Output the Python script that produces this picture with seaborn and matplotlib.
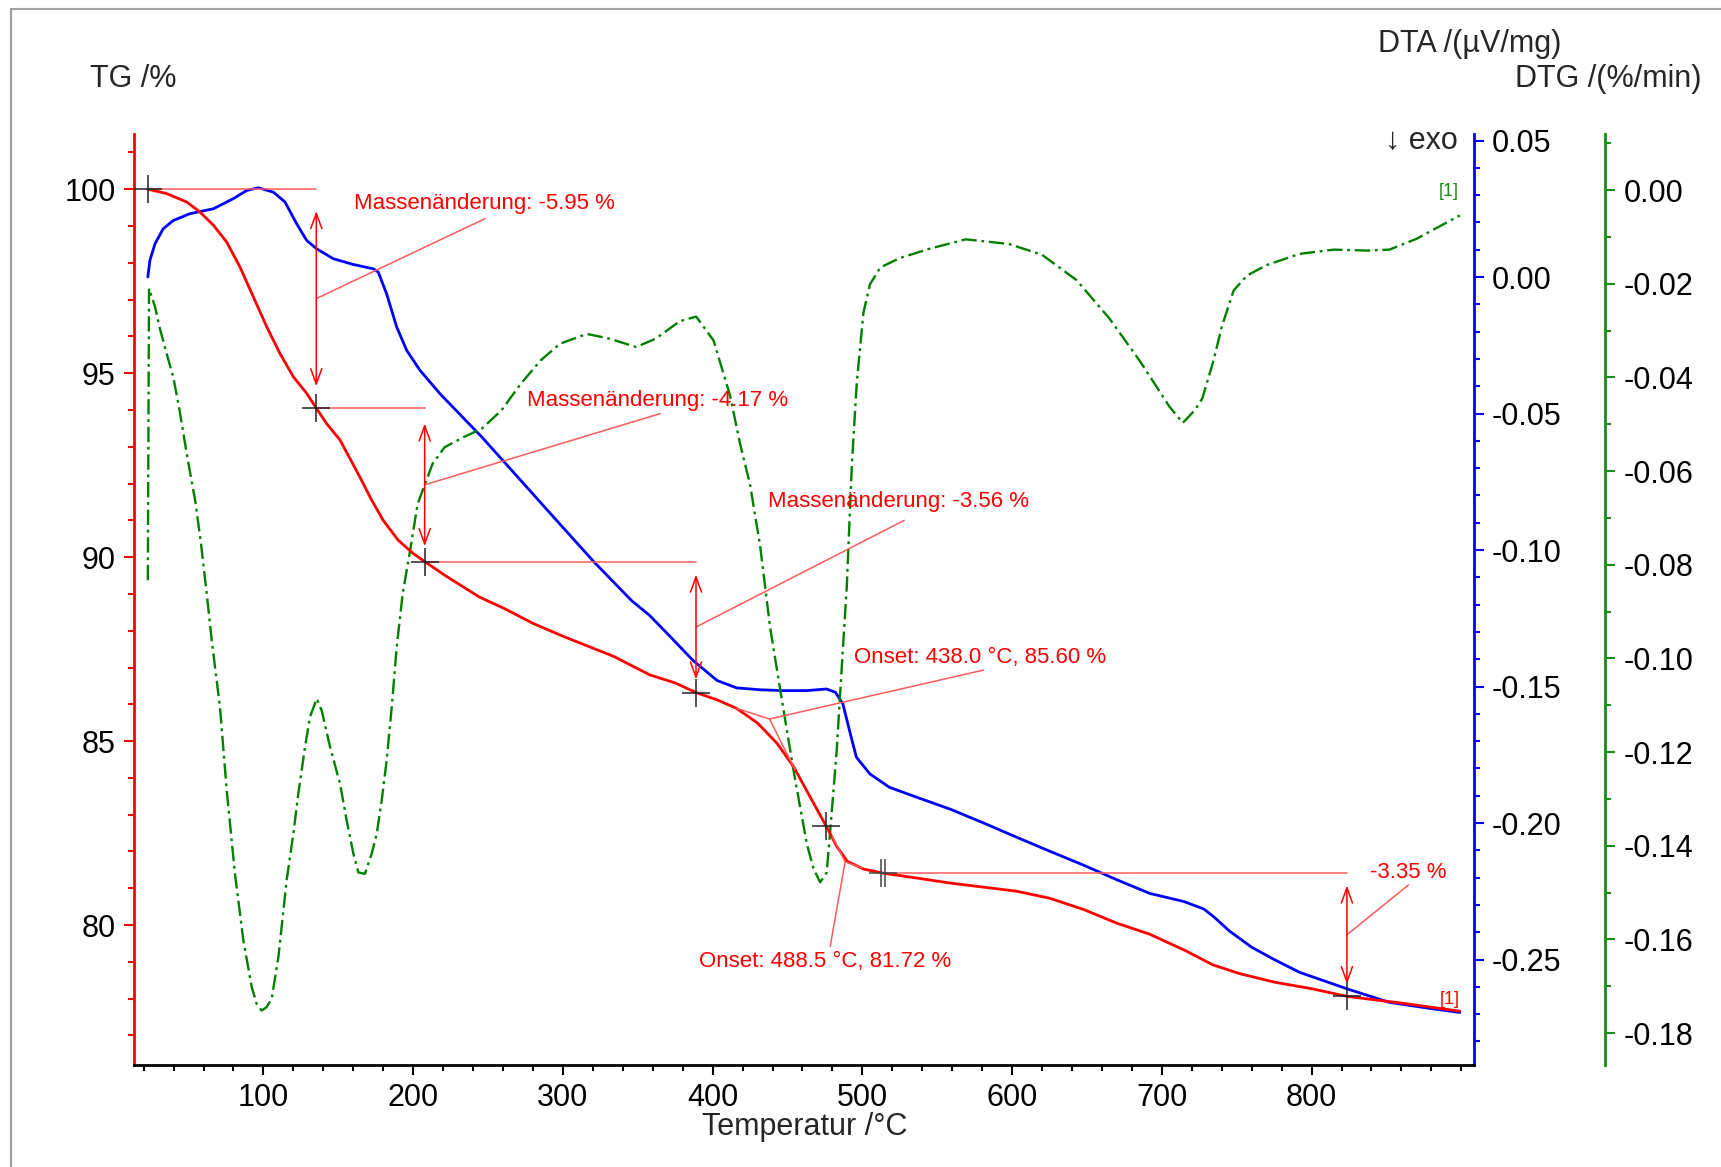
import matplotlib
matplotlib.use("Agg")
import matplotlib.pyplot as plt
import seaborn as sns
from matplotlib.ticker import MultipleLocator, FixedLocator, FormatStrFormatter
from matplotlib.path import Path
from matplotlib.patches import Rectangle

# TG curve (mass / %)
temp_tg = [22.8, 35.4, 48.8, 57.6, 66.6, 75.5, 84.4, 93.3, 102.2, 111.1,
           120, 128.9, 135.3, 142.2, 151.2, 157.8, 165, 172, 180, 190,
           200, 207.7, 221, 244, 261, 280, 300, 334, 358, 375,
           388.9, 403, 416, 430, 443, 454, 465, 476, 483, 490,
           501, 514, 536, 559, 581, 603, 625, 648, 670, 692,
           716, 734, 752, 775, 800, 824, 860, 899]
tg = [100.0, 99.88, 99.65, 99.38, 99.02, 98.56, 97.88, 97.07, 96.26, 95.53,
      94.9, 94.45, 94.05, 93.63, 93.18, 92.68, 92.13, 91.57, 91.0, 90.46,
      90.1, 89.88, 89.51, 88.92, 88.6, 88.2, 87.85, 87.3, 86.8, 86.58,
      86.32, 86.12, 85.89, 85.49, 84.94, 84.31, 83.49, 82.68, 82.13, 81.73,
      81.52, 81.41, 81.28, 81.14, 81.03, 80.92, 80.73, 80.42, 80.05, 79.75,
      79.3, 78.92, 78.68, 78.45, 78.27, 78.06, 77.88, 77.66]

# DTA curve (uV/mg)
temp_dta = [22.8, 24.2, 27.6, 33.1, 39.8, 50.9, 66.6, 79.9, 88.8, 96.6,
            106.6, 114.4, 122.2, 128.9, 135.6, 146.7, 160, 173.4, 176.7, 182.3,
            189, 195.7, 204.6, 218, 246, 272, 298, 321, 346, 358,
            372, 387, 403, 416, 432, 447, 463, 476, 482, 487,
            492, 496, 505, 518, 536, 559, 581, 603, 625, 648,
            670, 692, 715, 728, 735, 745, 760, 775, 792, 824,
            852, 880, 899]
dta = [0.0000, 0.0061, 0.0122, 0.0177, 0.0207, 0.0232, 0.0250, 0.0287, 0.0317, 0.0327,
       0.0311, 0.0275, 0.0195, 0.0134, 0.0103, 0.0067, 0.0046, 0.0030, 0.0018, -0.0062,
       -0.0183, -0.0269, -0.0342, -0.0428, -0.0587, -0.0746, -0.0905, -0.1045, -0.1186, -0.1240,
       -0.1319, -0.1405, -0.1478, -0.1505, -0.1512, -0.1515, -0.1515, -0.1509, -0.1521, -0.1564,
       -0.1674, -0.1759, -0.1820, -0.1869, -0.1905, -0.1950, -0.2000, -0.2052, -0.2103, -0.2155,
       -0.2208, -0.2258, -0.2288, -0.2315, -0.2345, -0.2395, -0.2455, -0.2500, -0.2547, -0.2608,
       -0.2657, -0.2680, -0.2694]

# DTG curve (%/min)
temp_dtg = [22.8, 23.6, 27.6, 30.9, 35, 39.8, 44, 48.8, 54.8, 58.5,
            62.4, 65.5, 71.0, 75.5, 81.0, 86.6, 92.2, 95.5, 98.8, 102,
            105.5, 110, 115.5, 120, 123.3, 127.8, 131.1, 135.6, 138.9, 144.5,
            151.2, 155.6, 160.1, 163.4, 167.8, 172.3, 175.7, 179, 182.3, 185.7,
            189, 193, 198, 203, 208, 213, 221, 234, 246, 259,
            272, 285, 298, 316, 331, 349, 362, 378, 389, 400.6,
            411.6, 418.3, 425, 431.7, 438.4, 445, 454, 462.9, 467.5, 471.8,
            476.2, 479.6, 482.9, 486.2, 489.6, 493, 496.3, 500.7, 505.1, 512,
            525, 545, 569, 598, 620, 643, 665, 686, 705, 714,
            722, 727, 734.5, 740, 748, 757, 770, 792, 815, 837,
            852, 870, 899]
dtg = [-0.0833, -0.0210, -0.0249, -0.0296, -0.0345, -0.0399, -0.0470, -0.0563, -0.0670, -0.0760,
       -0.0869, -0.0962, -0.1104, -0.1282, -0.1460, -0.1602, -0.1702, -0.1738, -0.1752, -0.1745,
       -0.1727, -0.1638, -0.1474, -0.1374, -0.1289, -0.1189, -0.1125, -0.1086, -0.1111, -0.1189,
       -0.1268, -0.1346, -0.1417, -0.1457, -0.1460, -0.1417, -0.1374, -0.1303, -0.1218, -0.1104,
       -0.0976, -0.0862, -0.0769, -0.0670, -0.0627, -0.0584, -0.0549, -0.0527, -0.0509, -0.0470,
       -0.0413, -0.0364, -0.0328, -0.0307, -0.0317, -0.0335, -0.0317, -0.0280, -0.0270, -0.0321,
       -0.0438, -0.0541, -0.0629, -0.0759, -0.0934, -0.1064, -0.1239, -0.1396, -0.1450, -0.1478,
       -0.1457, -0.1326, -0.1195, -0.1021, -0.0846, -0.0585, -0.0410, -0.0262, -0.0201, -0.0165,
       -0.0145, -0.0125, -0.0105, -0.0115, -0.0138, -0.0192, -0.0274, -0.0368, -0.0462, -0.0497,
       -0.0470, -0.0445, -0.0364, -0.0292, -0.0214, -0.0182, -0.0160, -0.0136, -0.0127, -0.0129,
       -0.0127, -0.0104, -0.0054]

# evaluated mass steps
step_temp = [22.8, 135.3, 207.7, 388.9]
step_tg = [100.0, 94.05, 89.88, 86.32]
step_labels = ["Massenänderung: -5.95 %", "Massenänderung: -4.17 %", "Massenänderung: -3.56 %"]
last_temp = [514.0, 823.6]
last_tg = [81.41, 78.06]
last_label = "-3.35 %"
onset_temp = [438.0, 488.5]
onset_tg = [85.60, 81.72]
onset_labels = ["Onset: 438.0 °C, 85.60 %", "Onset: 488.5 °C, 81.72 %"]

x_major = [100, 200, 300, 400, 500, 600, 700, 800]

sns.set_style("ticks")
plt.rcParams["font.family"] = ["Liberation Sans", "DejaVu Sans"]
plt.rcParams["axes.unicode_minus"] = False

RED, BLUE, GREEN = "#ff0000", "#0000ff", "#1a8a1a"
THIN = "#ff5a5a"

fig = plt.figure(figsize=(17.21, 11.67), dpi=100)
fig.patches.append(Rectangle((0.0064, -0.1), 1.2, 1.0925, transform=fig.transFigure,
                             fill=False, edgecolor="#a0a0a0", lw=1.5))
ax = fig.add_axes([0.0778, 0.0875, 0.7787, 0.7977])
ax_dta = ax.twinx()
ax_dtg = ax.twinx()
ax.set_zorder(3)
ax.patch.set_visible(False)

sns.lineplot(x=temp_dtg, y=dtg, ax=ax_dtg, color="green", lw=1.7, sort=False,
             estimator=None, linestyle=(0, (6.5, 2, 1.2, 2)), dash_joinstyle="round")
sns.lineplot(x=temp_dta, y=dta, ax=ax_dta, color=BLUE, lw=2.0, sort=False, estimator=None,
             solid_joinstyle="round")
sns.lineplot(x=temp_tg, y=tg, ax=ax, color=RED, lw=2.0, sort=False, estimator=None,
             solid_joinstyle="round")

# axes, spines, ticks
for a in (ax, ax_dta, ax_dtg):
    for s in a.spines.values():
        s.set_visible(False)
    a.set_xlim(13.5, 908.5)
    a.set_xlabel("")
    a.set_ylabel("")

ax.spines["left"].set_visible(True)
ax.spines["left"].set_color(RED)
ax.spines["left"].set_linewidth(2)
ax.spines["bottom"].set_visible(True)
ax.spines["bottom"].set_color("black")
ax.spines["bottom"].set_linewidth(2)
ax.set_ylim(76.2, 101.5)
ax.yaxis.set_major_locator(MultipleLocator(5))
ax.yaxis.set_minor_locator(MultipleLocator(1))
ax.xaxis.set_major_locator(FixedLocator(x_major))
ax.xaxis.set_minor_locator(MultipleLocator(20))
ax.tick_params(axis="y", which="both", colors=RED, labelcolor="black", width=1.5)
ax.tick_params(axis="y", which="major", length=7, labelsize=22, pad=6)
ax.tick_params(axis="y", which="minor", length=4)
ax.tick_params(axis="x", which="both", colors="black", width=1.5)
ax.tick_params(axis="x", which="major", length=7, labelsize=22, pad=6)
ax.tick_params(axis="x", which="minor", length=4)

ax_dta.spines["right"].set_visible(True)
ax_dta.spines["right"].set_color(BLUE)
ax_dta.spines["right"].set_linewidth(2)
ax_dta.set_ylim(-0.2886, 0.0524)
ax_dta.yaxis.set_major_locator(MultipleLocator(0.05))
ax_dta.yaxis.set_minor_locator(MultipleLocator(0.01))
ax_dta.yaxis.set_major_formatter(FormatStrFormatter("%.2f"))
ax_dta.tick_params(axis="y", which="both", colors=BLUE, labelcolor="black", width=1.5)
ax_dta.tick_params(axis="y", which="major", length=7, labelsize=22, pad=6)
ax_dta.tick_params(axis="y", which="minor", length=4)

ax_dtg.spines["right"].set_visible(True)
ax_dtg.spines["right"].set_position(("axes", 1.098))
ax_dtg.spines["right"].set_color(GREEN)
ax_dtg.spines["right"].set_linewidth(2)
ax_dtg.set_ylim(-0.1868, 0.012)
ax_dtg.yaxis.set_major_locator(MultipleLocator(0.02))
ax_dtg.yaxis.set_minor_locator(MultipleLocator(0.01))
ax_dtg.yaxis.set_major_formatter(FormatStrFormatter("%.2f"))
ax_dtg.tick_params(axis="y", which="both", colors=GREEN, labelcolor="black", width=1.5)
ax_dtg.tick_params(axis="y", which="major", length=7, labelsize=22, pad=6)
ax_dtg.tick_params(axis="y", which="minor", length=4)
for a in (ax_dta, ax_dtg):
    a.tick_params(axis="x", which="both", bottom=False, labelbottom=False)

# mass-change annotations
arrow_style = "<->,head_length=0.55,head_width=0.2"
txt_pos = [(160.3, 99.62), (276, 94.25), (437, 91.5)]
leader_end = [(248, 99.2), (365, 93.9), (528, 91.0)]
for i in range(3):
    t0, t1 = step_temp[i], step_temp[i + 1]
    top, bot = step_tg[i], step_tg[i + 1]
    d = top - bot
    ax.plot([t0, t1], [top, top], color=THIN, lw=1.1)
    ax.annotate("", xy=(t1, bot + 0.1 * d), xytext=(t1, top - 0.1 * d),
                arrowprops=dict(arrowstyle=arrow_style, color=RED, lw=1.1,
                                mutation_scale=20, shrinkA=0, shrinkB=0))
    mid = (top + bot) / 2
    ax.plot([t1, leader_end[i][0]], [mid, leader_end[i][1]], color=THIN, lw=1.1)
    ax.text(txt_pos[i][0], txt_pos[i][1], step_labels[i], color=RED, fontsize=16,
            ha="left", va="center")

# last step
ax.plot([last_temp[0], last_temp[1]], [last_tg[0], last_tg[0]], color=THIN, lw=1.1)
d = last_tg[0] - last_tg[1]
ax.annotate("", xy=(last_temp[1], last_tg[1] + 0.1 * d), xytext=(last_temp[1], last_tg[0] - 0.1 * d),
            arrowprops=dict(arrowstyle=arrow_style, color=RED, lw=1.1,
                            mutation_scale=20, shrinkA=0, shrinkB=0))
ax.plot([last_temp[1], 864.7], [(last_tg[0] + last_tg[1]) / 2, 81.09], color=THIN, lw=1.1)
ax.text(839, 81.43, last_label, color=RED, fontsize=16, ha="left", va="center")

# onsets (tangents + leader)
ax.plot([416, onset_temp[0], 455], [85.89, onset_tg[0], 84.22], color=THIN, lw=1.1)
ax.plot([onset_temp[0], 580.9], [onset_tg[0], 86.93], color=THIN, lw=1.1)
ax.text(494.5, 87.27, onset_labels[0], color=RED, fontsize=16, ha="left", va="center")
ax.plot([480, onset_temp[1], 500], [82.4, onset_tg[1], 81.55], color=THIN, lw=1.1)
ax.plot([onset_temp[1], 478.5], [onset_tg[1], 79.42], color=THIN, lw=1.1)
ax.text(391, 79.02, onset_labels[1], color=RED, fontsize=16, ha="left", va="center")

# crosshair markers
cross_t = step_temp + [475.8, last_temp[1]]
cross_v = step_tg + [82.68, last_tg[1]]
ax.plot(cross_t, cross_v, ls="none", marker="+", ms=20, mew=1.1, color="#222222", zorder=5)
dbl = Path([(-0.13, -1), (-0.13, 1), (0.13, -1), (0.13, 1), (-1, 0), (1, 0)],
           [Path.MOVETO, Path.LINETO, Path.MOVETO, Path.LINETO, Path.MOVETO, Path.LINETO])
ax.plot([last_temp[0]], [last_tg[0]], ls="none", marker=dbl, ms=20, mew=1.1,
        mfc="none", color="#444444", zorder=5)

# segment tags
ax.text(899, 77.97, "[1]", color=RED, fontsize=13, ha="right", va="center")
ax_dtg.text(898, -0.0002, "[1]", color=GREEN, fontsize=13, ha="right", va="center")
ax.text(0.9877, 0.9923, "↓ exo", transform=ax.transAxes, fontsize=22, ha="right", va="center")

# axis titles
fig.text(0.0523, 0.932, "TG /%", fontsize=22, ha="left", va="center")
fig.text(0.907, 0.962, "DTA /(µV/mg)", fontsize=22, ha="right", va="center")
fig.text(0.9885, 0.932, "DTG /(%/min)", fontsize=22, ha="right", va="center")
fig.text(0.4675, 0.034, "Temperatur /°C", fontsize=22, ha="center", va="center")

fig.savefig("out.png", dpi=100)
